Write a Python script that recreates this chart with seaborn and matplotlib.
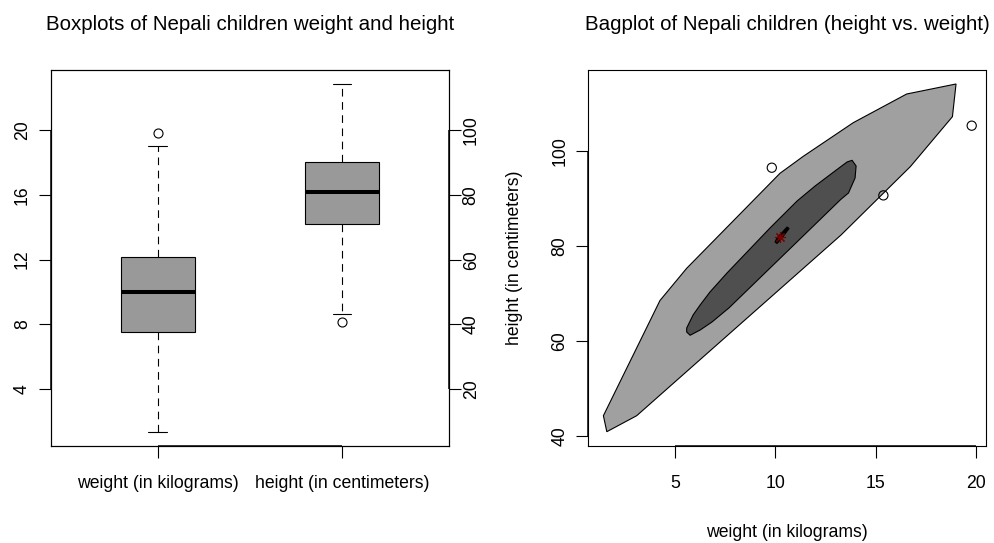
import matplotlib
matplotlib.use("Agg")
import matplotlib.pyplot as plt
import seaborn as sns

# ---- box plot summaries (lower whisker, Q1, median, Q3, upper whisker) ----
box_labels = ["weight (in kilograms)", "height (in centimeters)"]
weight_summary = [1.38, 7.53, 10.0, 12.18, 19.03]
weight_outliers = [19.83]
height_summary = [43.2, 70.9, 80.9, 90.1, 114.2]
height_outliers = [40.7]
weight_ticks = [4, 8, 12, 16, 20]
height_ticks = [20, 40, 60, 80, 100]

# ---- bagplot pieces: loop (outer hull), bag (inner hull), depth median ----
loop_w = [1.43, 1.60, 3.09, 13.27, 16.73, 18.82, 19.00, 16.54, 13.88, 11.39, 10.23, 5.58, 4.25]
loop_h = [44.27, 40.90, 44.27, 82.27, 96.68, 107.15, 114.03, 111.92, 105.89, 98.82, 95.25, 75.27, 68.50]
bag_w = [5.58, 5.75, 6.25, 6.84, 7.69, 13.27, 13.64, 13.97, 14.02, 13.82,
         13.57, 12.97, 11.98, 11.08, 9.73, 8.59, 7.59, 6.74, 6.25, 5.90, 5.58]
bag_h = [61.87, 61.18, 62.29, 63.97, 66.95, 89.80, 91.10, 94.26, 96.78, 97.98,
         97.62, 95.73, 92.58, 89.42, 83.74, 78.70, 74.28, 70.28, 67.55, 65.45, 62.71]
center_w = [9.98, 10.08, 10.58, 10.68, 10.33, 10.08]
center_h = [80.80, 81.64, 83.95, 83.64, 81.64, 80.48]
median_w = [10.23]
median_h = [81.91]
bag_out_w = [9.82, 15.38, 19.78]
bag_out_h = [96.42, 90.60, 105.26]
bag_xticks = [5, 10, 15, 20]
bag_yticks = [40, 60, 80, 100]

sns.set_style("white")
plt.rcParams["font.family"] = ["Liberation Sans", "DejaVu Sans"]
plt.rcParams["lines.scale_dashes"] = False
for key in ("text.color", "axes.labelcolor", "xtick.color", "ytick.color",
            "axes.edgecolor"):
    plt.rcParams[key] = "black"

FS = 12.7
TFS = 14.8
LW = 0.8
TICKLEN = 8.3


def axis_segment(ax, xs, ys):
    """Axis line between the first and last tick, drawn over the frame."""
    ax.plot(xs, ys, color="black", linewidth=1.1, solid_capstyle="butt",
            clip_on=False, zorder=10)


fig = plt.figure(figsize=(9.95, 5.43), dpi=100)
ax1 = fig.add_axes([0.0510, 0.1792, 0.4003, 0.6919])
ax1b = ax1.twinx()
ax2 = fig.add_axes([0.5913, 0.1792, 0.3994, 0.6919])

# ---------------- left panel: two boxplots on their own scales ----------------
box_kws = dict(order=box_labels, width=0.4, color="#999999", saturation=1,
               linecolor="black", linewidth=LW, whis=1.5, showfliers=False,
               capwidths=0.1,
               medianprops=dict(linewidth=2.9),
               whiskerprops=dict(linestyle=(0, (5.5, 4.0))))
sns.boxplot(x=[box_labels[0]] * len(weight_summary), y=weight_summary, ax=ax1, **box_kws)
sns.boxplot(x=[box_labels[1]] * len(height_summary), y=height_summary, ax=ax1b, **box_kws)

ax1.plot([0] * len(weight_outliers), weight_outliers, "o", mfc="none", mec="black",
         ms=6.5, mew=LW)
ax1b.plot([1] * len(height_outliers), height_outliers, "o", mfc="none", mec="black",
          ms=6.5, mew=LW)

ax1.set_xlim(-0.58, 1.58)
ax1.set_ylim(0.52, 23.7)
ax1b.set_ylim(2.6, 118.5)
ax1.set_yticks(weight_ticks)
ax1b.set_yticks(height_ticks)
ax1.set_xticks([0, 1])
ax1.set_xticklabels(box_labels)
for a in (ax1, ax1b):
    a.set_xlabel("")
    a.set_ylabel("")
    for s in a.spines.values():
        s.set_color("black")
        s.set_linewidth(LW)

ax1.tick_params(axis="x", length=TICKLEN, width=LW, pad=12.7, labelsize=FS,
                direction="out", bottom=True, colors="black")
ax1.tick_params(axis="y", length=TICKLEN, width=LW, pad=6.0, labelsize=FS,
                direction="out", left=True, labelrotation=90, colors="black")
ax1b.tick_params(axis="y", length=TICKLEN, width=LW, pad=1.5, labelsize=FS,
                 direction="out", right=True, labelrotation=90, colors="black")
for lab in ax1.get_yticklabels() + ax1b.get_yticklabels():
    lab.set_va("center")
ax1.set_title("Boxplots of Nepali children weight and height", fontsize=TFS, pad=29,
              color="black")

x0, x1 = ax1.get_xlim()
axis_segment(ax1, [0, 1], [ax1.get_ylim()[0]] * 2)
axis_segment(ax1, [x0, x0], [weight_ticks[0], weight_ticks[-1]])
axis_segment(ax1b, [x1, x1], [height_ticks[0], height_ticks[-1]])

# ---------------- right panel: bagplot ----------------
ax2.fill(loop_w, loop_h, facecolor="#A0A0A0", edgecolor="black", linewidth=LW, zorder=1)
ax2.fill(bag_w, bag_h, facecolor="#4F4F4F", edgecolor="black", linewidth=LW, zorder=2)
ax2.fill(center_w, center_h, facecolor="black", edgecolor="black", linewidth=LW, zorder=3)
ax2.plot(median_w, median_h, linestyle="none", marker=(8, 2, 0), color="#7A0000",
         ms=8, mew=0.8, zorder=4)
sns.scatterplot(x=bag_out_w, y=bag_out_h, ax=ax2, marker="o", s=44,
                facecolor="none", edgecolor="black", linewidth=LW, zorder=5)

ax2.set_xlim(0.68, 20.48)
ax2.set_ylim(37.96, 116.97)
ax2.set_xticks(bag_xticks)
ax2.set_yticks(bag_yticks)
for s in ax2.spines.values():
    s.set_color("black")
    s.set_linewidth(LW)
ax2.tick_params(axis="x", length=TICKLEN, width=LW, pad=12.7, labelsize=FS,
                direction="out", bottom=True, colors="black")
ax2.tick_params(axis="y", length=TICKLEN, width=LW, pad=6.0, labelsize=FS,
                direction="out", left=True, labelrotation=90, colors="black")
for lab in ax2.get_yticklabels():
    lab.set_va("center")
ax2.set_xlabel("weight (in kilograms)", fontsize=FS, color="black")
ax2.xaxis.set_label_coords(0.5, -0.2097)
ax2.set_ylabel("height (in centimeters)", fontsize=FS, color="black")
ax2.yaxis.set_label_coords(-0.1636, 0.5)
ax2.set_title("Bagplot of Nepali children (height vs. weight)", fontsize=TFS, pad=29,
              color="black")

axis_segment(ax2, [bag_xticks[0], bag_xticks[-1]], [ax2.get_ylim()[0]] * 2)
axis_segment(ax2, [ax2.get_xlim()[0]] * 2, [bag_yticks[0], bag_yticks[-1]])

fig.savefig("out.png", dpi=100)
